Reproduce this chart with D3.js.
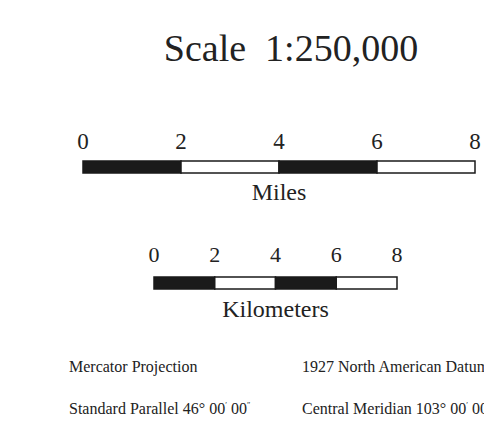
<!DOCTYPE html>
<html><head><meta charset="utf-8">
<script src="https://cdn.jsdelivr.net/npm/d3@7"></script>
<style>html,body{margin:0;padding:0;background:#fff;overflow:hidden}</style>
</head><body>
<script>
const title = "Scale  1:250,000";
const milesTicks = [0, 2, 4, 6, 8];
const kmTicks = [0, 2, 4, 6, 8];
const milesLabel = "Miles";
const kmLabel = "Kilometers";
const notes = [
  {col: 0, row: 0, parts: [["Mercator Projection", 0]]},
  {col: 1, row: 0, parts: [["1927 North American Datum", 0]]},
  {col: 0, row: 1, parts: [["Standard Parallel 46° 00", 0], ["′", 1], [" 00", 0], ["″", 1]]},
  {col: 1, row: 1, parts: [["Central Meridian 103° 00", 0], ["′", 1], [" 00", 0], ["″", 1]]}
];

const W = 484, H = 431;
const svg = d3.select("body").append("svg").attr("width", W).attr("height", H)
  .style("font-family", "'Liberation Serif','Times New Roman',serif");

svg.append("text").attr("x", 291).attr("y", 61).attr("text-anchor", "middle")
  .attr("font-size", 38).attr("fill", "#222").attr("xml:space","preserve").style("white-space","pre").text(title);

function scaleBar(ticks, range, barTop, barH, tickY, tickFs, label, labelY, labelFs) {
  const x = d3.scaleLinear().domain([ticks[0], ticks[ticks.length - 1]]).range(range);
  const g = svg.append("g");
  const segs = d3.pairs(ticks);
  g.selectAll("rect.seg").data(segs).join("rect").attr("class", "seg")
    .attr("x", d => x(d[0])).attr("y", barTop)
    .attr("width", d => x(d[1]) - x(d[0])).attr("height", barH)
    .attr("fill", (d, i) => i % 2 === 0 ? "#1a1a1a" : "#fff")
    .attr("stroke", "#1a1a1a").attr("stroke-width", 1.5);
  g.selectAll("text.tick").data(ticks).join("text").attr("class", "tick")
    .attr("x", d => x(d)).attr("y", tickY).attr("text-anchor", "middle")
    .attr("font-size", tickFs).attr("fill", "#222").text(d => d);
  g.append("text").attr("x", (range[0] + range[1]) / 2).attr("y", labelY)
    .attr("text-anchor", "middle").attr("font-size", labelFs).attr("fill", "#222").text(label);
}

scaleBar(milesTicks, [83, 475], 161, 12, 149, 23, milesLabel, 200, 24);
scaleBar(kmTicks, [154, 397], 277, 12, 262, 22, kmLabel, 317, 24);

const colX = [69, 302], rowY = [372, 414];
notes.forEach(n => {
  const t = svg.append("text").attr("x", colX[n.col]).attr("y", rowY[n.row])
    .attr("font-size", 16).attr("fill", "#222").attr("xml:space","preserve").style("white-space","pre");
  n.parts.forEach(p => {
    const ts = t.append("tspan").text(p[0]);
    if (p[1]) ts.attr("font-size", 8).attr("baseline-shift", "6");
  });
});
</script>
</body></html>
